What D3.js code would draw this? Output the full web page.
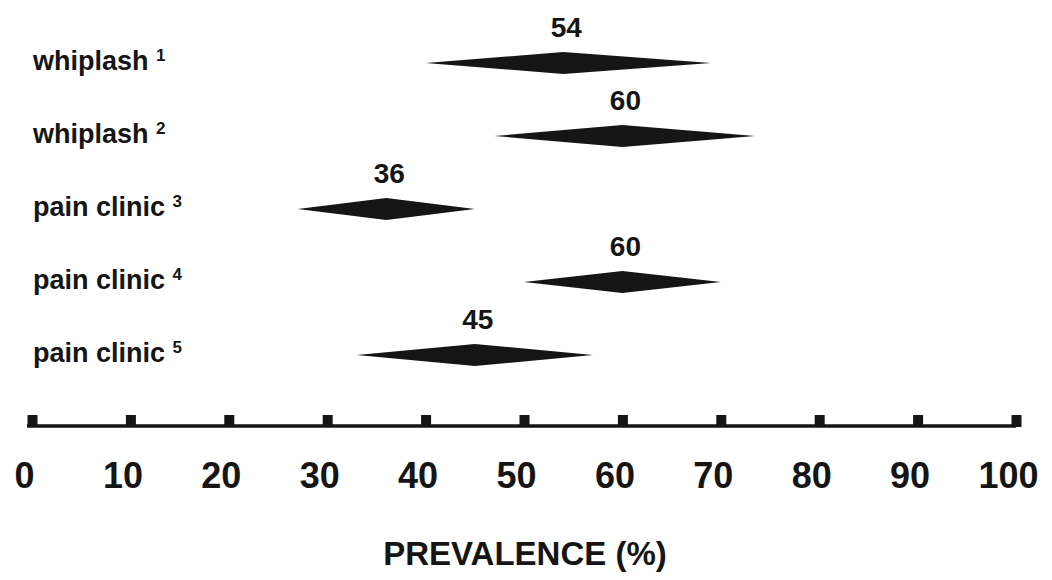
<!DOCTYPE html>
<html>
<head>
<meta charset="utf-8">
<script src="https://cdnjs.cloudflare.com/ajax/libs/d3/7.8.5/d3.min.js"></script>
<style>
  html, body { margin: 0; padding: 0; background: #fff; }
  svg { display: block; }
</style>
</head>
<body>
<div id="chart"></div>
<script>
// study groups and prevalence estimates (%)
var studies = ['whiplash', 'whiplash', 'pain clinic', 'pain clinic', 'pain clinic'];
var refs = ['1', '2', '3', '4', '5'];
var estimate = [54, 60, 36, 60, 45];
var lower = [40, 47, 27, 50, 33];
var upper = [69, 73.5, 45, 70, 57];
var tickValues = [0, 10, 20, 30, 40, 50, 60, 70, 80, 90, 100];

var width = 1052;
var height = 580;
var ink = '#151515';
var narrow = '"Liberation Sans Narrow", "Arial Narrow", "Liberation Sans", Arial, sans-serif';

var svg = d3.select('#chart')
  .append('svg')
  .attr('width', width)
  .attr('height', height)
  .attr('font-family', 'Liberation Sans, Arial, sans-serif')
  .attr('font-weight', 'bold');

var x = d3.scaleLinear().domain([0, 100]).range([32, 1016]);
var y = d3.scalePoint().domain(d3.range(studies.length)).range([63, 355]);

var halfH = 11;

var rows = svg.append('g')
  .selectAll('g')
  .data(estimate)
  .enter().append('g');

// diamonds
rows.append('path')
  .attr('fill', ink)
  .attr('d', function(d, i) {
    var cy = y(i);
    return 'M' + x(lower[i]) + ',' + cy +
      'L' + x(d) + ',' + (cy - halfH) +
      'L' + x(upper[i]) + ',' + cy +
      'L' + x(d) + ',' + (cy + halfH) + 'Z';
  });

// value labels
rows.append('text')
  .attr('x', function(d) { return x(d) + 3; })
  .attr('y', function(d, i) { return y(i) - 26; })
  .attr('text-anchor', 'middle')
  .attr('font-family', narrow)
  .attr('font-size', 28)
  .attr('fill', ink)
  .text(function(d) { return d; });

// study labels with superscript reference
var lab = rows.append('text')
  .attr('x', 33)
  .attr('y', function(d, i) { return y(i) + 7; })
  .attr('font-size', 27)
  .attr('fill', ink);
lab.append('tspan').text(function(d, i) { return studies[i] + ' '; });
lab.append('tspan')
  .attr('font-size', 17)
  .attr('dy', -9)
  .text(function(d, i) { return refs[i]; });

// axis
var axisY = 426;
var axis = d3.axisBottom(x)
  .tickValues(tickValues)
  .tickSize(0)
  .tickPadding(36);

var gAxis = svg.append('g')
  .attr('transform', 'translate(0,' + axisY + ')')
  .call(axis);

gAxis.select('.domain')
  .attr('d', 'M' + (x(0) - 5) + ',0H' + x(100))
  .attr('stroke', ink)
  .attr('stroke-width', 3.5);

gAxis.selectAll('.tick').append('rect')
  .attr('x', -5)
  .attr('y', -11)
  .attr('width', 10)
  .attr('height', 12)
  .attr('fill', ink);

gAxis.selectAll('.tick text')
  .attr('font-size', 36)
  .attr('font-family', narrow)
  .attr('font-weight', 'bold')
  .attr('fill', ink)
  .attr('dx', -8);

// axis title
svg.append('text')
  .attr('x', 525)
  .attr('y', 565)
  .attr('text-anchor', 'middle')
  .attr('font-size', 33)
  .attr('fill', ink)
  .text('PREVALENCE (%)');
</script>
</body>
</html>
